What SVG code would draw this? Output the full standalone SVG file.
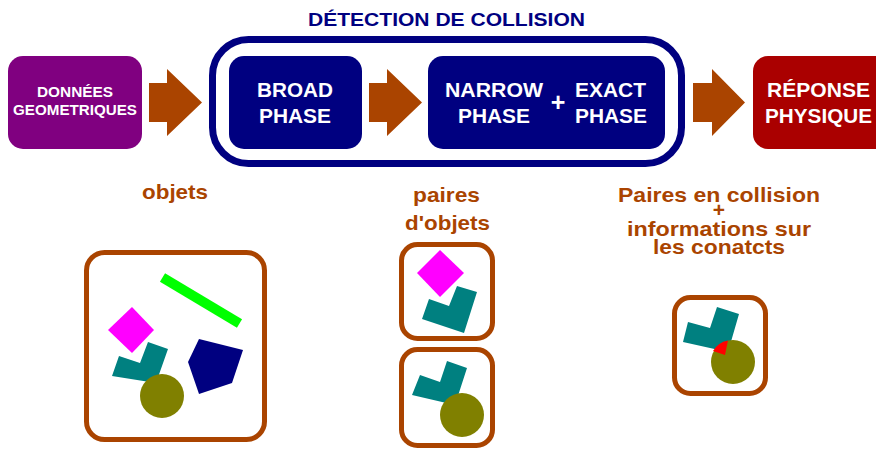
<svg xmlns="http://www.w3.org/2000/svg" width="876" height="451" viewBox="0 0 876 451">
<style>
text{font-family:"Liberation Sans",Arial,sans-serif;font-weight:bold;text-anchor:middle}
.w{fill:#fff}
.lbl{fill:#aa4400;font-size:21px}
.frame{fill:#fff;stroke:#aa4400;stroke-width:5}
.arr{fill:#aa4400}
.teal{fill:#008080}
.olive{fill:#808000}
.mag{fill:#ff00ff}
</style>
<rect width="876" height="451" fill="#fff"/>
<g id="connectors">
<polygon class="arr" points="149,83 167,83 167,69 202,102.5 167,136 167,122 149,122"/>
<polygon class="arr" points="369,83 387,83 387,69 422,102.5 387,136 387,122 369,122"/>
<polygon class="arr" points="693,83 712,83 712,69 745,102.5 712,136 712,122 693,122"/>
</g>
<g id="detection">
<rect x="212.5" y="39.5" width="469" height="124" rx="36" fill="none" stroke="#000080" stroke-width="7"/>
<text x="446.5" y="26" fill="#000080" font-size="19" textLength="277" lengthAdjust="spacingAndGlyphs">DÉTECTION DE COLLISION</text>
</g>
<g id="donnees">
<rect x="8" y="56" width="134" height="93" rx="15" fill="#800080"/>
<text class="w" x="75" y="97" font-size="14.5" textLength="76" lengthAdjust="spacingAndGlyphs">DONNÉES</text>
<text class="w" x="75" y="115" font-size="14.5" textLength="124" lengthAdjust="spacingAndGlyphs">GEOMETRIQUES</text>
</g>
<g id="broad">
<rect x="229" y="56" width="133" height="93" rx="15" fill="#000080"/>
<text class="w" x="295" y="97" font-size="20.5" textLength="76" lengthAdjust="spacingAndGlyphs">BROAD</text>
<text class="w" x="295" y="123" font-size="20.5" textLength="72" lengthAdjust="spacingAndGlyphs">PHASE</text>
</g>
<g id="narrow">
<rect x="428" y="56" width="237" height="93" rx="15" fill="#000080"/>
<text class="w" x="494" y="97" font-size="20.5" textLength="98" lengthAdjust="spacingAndGlyphs">NARROW</text>
<text class="w" x="494" y="123" font-size="20.5" textLength="72" lengthAdjust="spacingAndGlyphs">PHASE</text>
<text class="w" x="558" y="111" font-size="25">+</text>
<text class="w" x="610.5" y="97" font-size="20.5" textLength="71" lengthAdjust="spacingAndGlyphs">EXACT</text>
<text class="w" x="611" y="123" font-size="20.5" textLength="72" lengthAdjust="spacingAndGlyphs">PHASE</text>
</g>
<g id="reponse">
<rect x="753" y="56" width="140" height="93" rx="15" fill="#aa0000"/>
<text class="w" x="818.5" y="97" font-size="20.5" textLength="103" lengthAdjust="spacingAndGlyphs">RÉPONSE</text>
<text class="w" x="818.5" y="123" font-size="20.5" textLength="107" lengthAdjust="spacingAndGlyphs">PHYSIQUE</text>
</g>
<g id="label-objets">
<text class="lbl" x="175" y="199" textLength="66" lengthAdjust="spacingAndGlyphs">objets</text>
</g>
<g id="label-paires">
<text class="lbl" x="446.5" y="202" textLength="67" lengthAdjust="spacingAndGlyphs">paires</text>
<text class="lbl" x="447.5" y="230" textLength="85" lengthAdjust="spacingAndGlyphs">d'objets</text>
</g>
<g id="label-collision">
<text class="lbl" x="719" y="202" textLength="202" lengthAdjust="spacingAndGlyphs">Paires en collision</text>
<text class="lbl" x="719" y="217">+</text>
<text class="lbl" x="719" y="236" textLength="184" lengthAdjust="spacingAndGlyphs">informations sur</text>
<text class="lbl" x="719" y="254" textLength="132" lengthAdjust="spacingAndGlyphs">les conatcts</text>
</g>
<g id="scene-objets">
<rect class="frame" x="86.5" y="252.5" width="178" height="187" rx="18"/>
<line x1="162.5" y1="277.5" x2="239.5" y2="323.5" stroke="#00ff00" stroke-width="10"/>
<polygon class="mag" points="132,307 154,330 132,353 108,330"/>
<polygon class="teal" points="119,356 140,363 148,342 168,349 156,383 112,376"/>
<circle class="olive" cx="162" cy="396" r="22"/>
<polygon fill="#000080" points="199,339 243,350 232,383 199,394 188,362"/>
</g>
<g id="scene-paire1">
<rect class="frame" x="401.5" y="244.5" width="91" height="94" rx="16"/>
<polygon class="mag" points="440,250 464,273 440,297 417,273"/>
<polygon class="teal" points="429,299 449,306 457,286 477,292 464,333 422,319"/>
</g>
<g id="scene-paire2">
<rect class="frame" x="401.5" y="349.5" width="91" height="96" rx="16"/>
<polygon class="teal" points="420,375 440,382 447,361 467,368 455,405 412,395"/>
<circle class="olive" cx="462" cy="415" r="22"/>
</g>
<g id="scene-contact">
<rect class="frame" x="674.5" y="297.5" width="91" height="96" rx="16"/>
<polygon class="teal" points="688,322 710,328 717,307 739,314 728,352 683,342"/>
<circle class="olive" cx="733" cy="362" r="22"/>
<path fill="#ff0000" d="M725,355 L713,351 A22,22 0 0 1 728,340.5 Z"/>
</g>
</svg>
